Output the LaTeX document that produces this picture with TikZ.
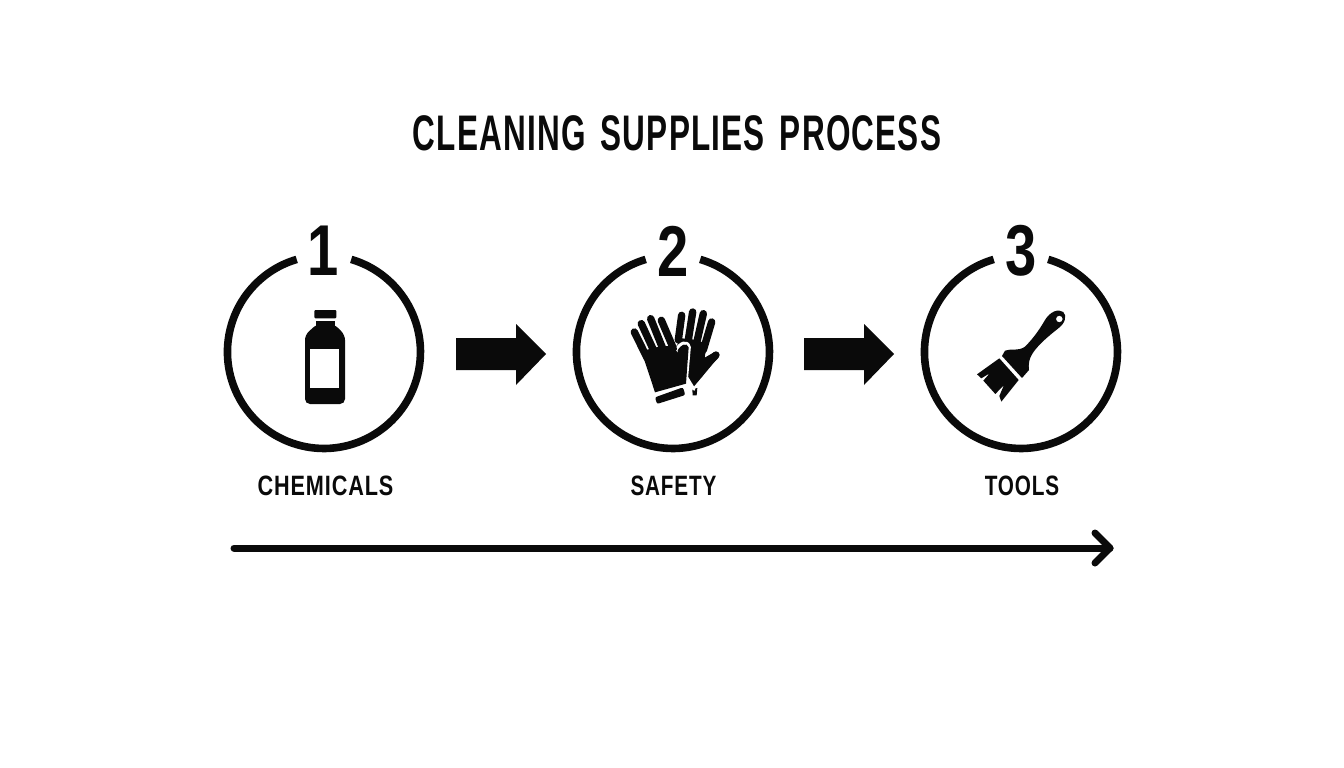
\documentclass[tikz,border=0pt]{standalone}
\usepackage{fontspec}
\newfontfamily\titlefont[FakeStretch=0.63,LetterSpace=2.4,WordSpace=1.5]{Liberation Sans Bold}
\newfontfamily\numfont[FakeStretch=0.78]{Liberation Sans Bold}
\newfontfamily\labelfont[FakeStretch=0.74,LetterSpace=3]{Liberation Sans Bold}
\definecolor{ink}{HTML}{0A0A0A}
\tikzset{
  ring/.style={draw=ink,line width=7.6pt},
  titletext/.style={font=\titlefont\fontsize{50}{50}\selectfont,text=ink,inner sep=0pt},
  numtext/.style={font=\numfont\fontsize{72}{72}\selectfont,text=ink,inner sep=0pt},
  labeltext/.style={font=\labelfont\fontsize{28}{28}\selectfont,text=ink,inner sep=0pt},
  blockarrow/.style={fill=ink,draw=none},
  solid ink/.style={fill=ink,draw=none},
  finger/.style={draw=ink,line cap=round,line width=7.4pt},
  flow/.style={draw=ink,line width=7pt,line cap=round,line join=round}
}
\begin{document}
\begin{tikzpicture}[x=1pt,y=-1pt]
\useasboundingbox (0,0) rectangle (1344,768);
\fill[white] (0,0) rectangle (1344,768);
\node[titletext] (title) at (677,133) {CLEANING SUPPLIES PROCESS};

% rings
\coordinate (c1) at (324,352);
\coordinate (c2) at (673,352);
\coordinate (c3) at (1021,352);
\foreach \c in {c1,c2,c3}{
  \draw[ring] (\c) ++(27.2pt,92.6pt) arc[start angle=73.6,end angle=-253.6,radius=96.5pt];
}
\node[numtext] (n1) at (323,251) {1};
\node[numtext] (n2) at (673.5,251) {2};
\node[numtext] (n3) at (1021.5,251) {3};
\node[labeltext] (l1) at (325.5,486) {\scalebox{1.045}[1]{CHEMICALS}};
\node[labeltext] (l2) at (673.5,486) {SAFETY};
\node[labeltext] (l3) at (1022,486) {TOOLS};

% block arrows
\fill[blockarrow] (456,338)--(516,338)--(516,324)--(546,354)--(516,385)--(516,370)--(456,370)--cycle;
\fill[blockarrow] (804,338)--(864,338)--(864,324)--(894,354)--(864,385)--(864,370)--(804,370)--cycle;

% bottle
\fill[solid ink,rounded corners=1pt] (314.3,310) rectangle (336.3,318.3);
\fill[solid ink] (315.7,321) rectangle (335,326);
\fill[solid ink,rounded corners=5pt] (317,324) -- (305,335) -- (305,404) -- (345,404) -- (345,335) -- (334,324) -- cycle;
\fill[white] (310.3,349) rectangle (339.3,387.7);

% gloves
\begin{scope}[shift={(610,290)},x=0.3333pt,y=-0.3333pt]
  % back glove
  \draw[finger] (215,76) -- (205,150);
  \draw[finger] (248,66) -- (235,150);
  \draw[finger] (280,71) -- (262,150);
  \draw[finger] (305,96) -- (280,180);
  \draw[finger] (318,195) -- (270,245);
  \fill[solid ink] (198,170)--(215,145)--(265,150)--(290,165)--(284,203)--(312,187)--(322,205)--(275,262)--(247,295)--(232,260)--cycle;
  \fill[solid ink] (247,298)--(262,294)--(260,316)--(248,316)--cycle;
  % front glove
  \draw[white,line width=3pt,line join=round,line cap=round] (198,180) .. controls (208,160) and (232,148) .. (238,172) -- (230,262) -- (252,298);
  \fill[solid ink] (98,195)--(108,180)--(138,172)--(170,168)--(190,170)--(203,188) .. controls (212,165) and (230,155) .. (236,172) -- (228,281) -- (135,307) -- cycle;
  \draw[finger] (73,126) -- (112,205);
  \draw[finger] (94,101) -- (135,190);
  \draw[finger] (122,86) -- (160,180);
  \draw[finger] (154,91) -- (190,175);
  \fill[solid ink,rounded corners=2pt] (135,322)--(141,342)--(226,315)--(219,292)--cycle;
\end{scope}

% brush
\begin{scope}[shift={(960,290)},x=0.3333pt,y=-0.3333pt]
  \fill[solid ink,even odd rule] (126,198) -- (135,182) .. controls (150,175) and (175,185) .. (195,170)
    .. controls (215,150) and (235,125) .. (255,90) .. controls (270,65) and (295,55) .. (310,66)
    .. controls (322,78) and (315,100) .. (295,115) .. controls (270,135) and (245,155) .. (225,180)
    .. controls (205,205) and (205,225) .. (207,240) -- (186,264) -- cycle
    (298,87) circle[radius=10];
  \fill[solid ink] (118,205) -- (51,253) -- (64,265) -- (89,250) -- (70,272) -- (106,312) -- (132,285) -- (118,318) -- (124,335) -- (176,270) -- cycle;
\end{scope}

% timeline
\coordinate (ts) at (234,548);
\coordinate (te) at (1110,548);
\coordinate (tu) at (1095,533);
\coordinate (td) at (1095,563);
\draw[flow] (ts) -- (te);
\draw[flow] (tu) -- (te) -- (td);
\end{tikzpicture}
\end{document}
